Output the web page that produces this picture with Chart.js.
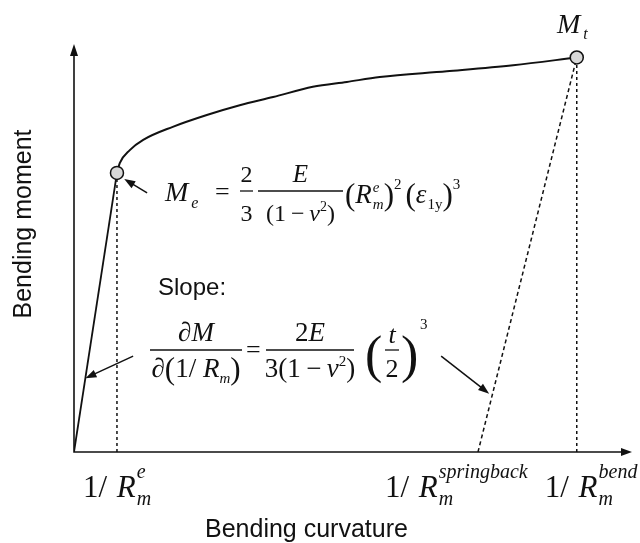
<!DOCTYPE html>
<html>
<head>
<meta charset="utf-8">
<title>Bending moment vs bending curvature</title>
<script src="https://cdn.jsdelivr.net/npm/chart.js@4.4.1/dist/chart.umd.min.js"></script>
<style>
  html, body { margin: 0; padding: 0; background: #fff; }
  #chart { display: block; }
</style>
</head>
<body>
<canvas id="chart" width="640" height="543"></canvas>
<script>
// ========================================
// DATA (curvature and moment in arbitrary units, 0..100)
// ========================================
const elasticX = [0, 7.7];
const elasticY = [0, 68.4];

const plasticX = [7.7, 8.2, 10.0, 12.4, 17.7, 23.8, 29.7, 35.7, 42.8, 48.9, 54.8, 66.8, 78.7, 90.1];
const plasticY = [68.4, 70.8, 74.0, 76.5, 79.7, 82.6, 85.0, 87.0, 89.5, 90.7, 91.9, 93.3, 94.8, 96.7];

const springbackX = [72.4, 90.1];
const springbackY = [0, 96.7];

const markerX = [7.7, 90.1];
const markerY = [68.4, 96.7];

// curvature ticks: 1/R_m^e, 1/R_m^springback, 1/R_m^bend
const curvatureTicks = [7.7, 72.4, 90.1];
const curvatureTickSup = ['e', 'springback', 'bend'];

function toPoints(xs, ys) {
    return xs.map(function(x, i) { return { x: x, y: ys[i] }; });
}

// ========================================
// TEXT HELPERS
// ========================================
const SERIF = '"Liberation Serif", "Times New Roman", serif';
const SANS = '"Liberation Sans", Arial, sans-serif';

function serif(size, italic) {
    return (italic ? 'italic ' : '') + size + 'px ' + SERIF;
}

// a run of pieces {t, s, i, dy, k, stay}; returns the end x
function drawRun(ctx, x, y, pieces, measureOnly) {
    pieces.forEach(function(p) {
        ctx.font = serif(p.s, p.i);
        if (!measureOnly) ctx.fillText(p.t, x, y + (p.dy || 0));
        if (!p.stay) x += ctx.measureText(p.t).width + (p.k || 0);
    });
    return x;
}

function runWidth(ctx, pieces) {
    return drawRun(ctx, 0, 0, pieces, true);
}

function drawCentered(ctx, cx, y, pieces) {
    drawRun(ctx, cx - runWidth(ctx, pieces) / 2, y, pieces);
}

function drawFraction(ctx, x0, x1, barY, num, numY, den, denY) {
    ctx.save();
    ctx.lineWidth = 1.3;
    ctx.beginPath();
    ctx.moveTo(x0, barY);
    ctx.lineTo(x1, barY);
    ctx.stroke();
    ctx.restore();
    const cx = (x0 + x1) / 2;
    drawCentered(ctx, cx, numY, num);
    drawCentered(ctx, cx, denY, den);
}

function arrowHead(ctx, tx, ty, angle, len, half) {
    ctx.beginPath();
    ctx.moveTo(tx, ty);
    ctx.lineTo(tx - len * Math.cos(angle) + half * Math.sin(angle), ty - len * Math.sin(angle) - half * Math.cos(angle));
    ctx.lineTo(tx - len * Math.cos(angle) - half * Math.sin(angle), ty - len * Math.sin(angle) + half * Math.cos(angle));
    ctx.closePath();
    ctx.fill();
}

function pointer(ctx, x0, y0, x1, y1) {
    const a = Math.atan2(y1 - y0, x1 - x0);
    ctx.beginPath();
    ctx.moveTo(x0, y0);
    ctx.lineTo(x1 - 6 * Math.cos(a), y1 - 6 * Math.sin(a));
    ctx.stroke();
    arrowHead(ctx, x1, y1, a, 11, 4);
}

// ========================================
// AXES (with arrow heads)
// ========================================
const axesPlugin = {
    id: 'axes',
    beforeDatasetsDraw: function(chart) {
        const ctx = chart.ctx;
        const a = chart.chartArea;
        ctx.save();
        ctx.strokeStyle = '#111';
        ctx.fillStyle = '#111';
        ctx.lineWidth = 1.6;
        ctx.beginPath();
        ctx.moveTo(a.left, a.top + 8);
        ctx.lineTo(a.left, a.bottom);
        ctx.lineTo(a.right - 8, a.bottom);
        ctx.stroke();
        arrowHead(ctx, a.left, a.top, -Math.PI / 2, 12, 4);
        arrowHead(ctx, a.right, a.bottom, 0, 11, 4);
        ctx.restore();
    }
};

// ========================================
// LABELS, FORMULAS AND POINTERS
// ========================================
const notesPlugin = {
    id: 'notes',
    afterDatasetsDraw: function(chart) {
        const ctx = chart.ctx;
        const xs = chart.scales.x;
        const ys = chart.scales.y;
        const px = function(v) { return xs.getPixelForValue(v); };
        const py = function(v) { return ys.getPixelForValue(v); };

        ctx.save();
        ctx.fillStyle = '#111';
        ctx.strokeStyle = '#111';
        ctx.lineWidth = 1.5;
        ctx.textBaseline = 'alphabetic';
        ctx.textAlign = 'left';

        // pointers
        pointer(ctx, px(13.1), py(63.5), px(9.0), py(66.9));
        pointer(ctx, px(10.6), py(23.5), px(2.05), py(18.1));
        pointer(ctx, px(65.8), py(23.5), px(74.4), py(14.3));

        // axis titles
        ctx.font = '25px ' + SANS;
        ctx.fillText('Bending curvature', 205, 537);
        ctx.save();
        ctx.translate(31, 224);
        ctx.rotate(-Math.PI / 2);
        ctx.textAlign = 'center';
        ctx.fillText('Bending moment', 0, 0);
        ctx.restore();

        // curvature tick labels
        const shift = [-34, -93, -32];
        curvatureTicks.forEach(function(v, i) {
            drawRun(ctx, px(v) + shift[i], 497, [
                { t: '1/ ', s: 31, k: 2 },
                { t: 'R', s: 31, i: true, k: 1 },
                { t: curvatureTickSup[i], s: 20, i: true, dy: -19, stay: true },
                { t: 'm', s: 20, i: true, dy: 8 }
            ]);
        });

        // M_t label
        drawRun(ctx, 557, 33, [
            { t: 'M', s: 28, i: true, k: 3 },
            { t: 't', s: 16, i: true, dy: 6 }
        ]);

        // M_e = 2/3 E/(1-v^2) (R_m^e)^2 (eps_1y)^3
        drawRun(ctx, 165, 201, [
            { t: 'M', s: 28, i: true, k: 3 },
            { t: 'e', s: 16, i: true, dy: 7 }
        ]);
        drawRun(ctx, 215, 200, [{ t: '=', s: 26 }]);
        drawFraction(ctx, 240, 253, 191, [{ t: '2', s: 24 }], 182, [{ t: '3', s: 24 }], 221);
        drawFraction(ctx, 258, 343, 191,
            [{ t: 'E', s: 25, i: true }], 182,
            [{ t: '(1\u2009\u2212\u2009', s: 24 }, { t: '\u03BD', s: 24, i: true }, { t: '2', s: 14, dy: -10 }, { t: ')', s: 24 }], 221);
        drawRun(ctx, 345, 203, [
            { t: '(', s: 31, dy: 2 },
            { t: 'R', s: 27, i: true, k: 1 },
            { t: 'e', s: 15, i: true, dy: -11, stay: true },
            { t: 'm', s: 15, i: true, dy: 6 },
            { t: ')', s: 31, dy: 2 },
            { t: '2', s: 15, dy: -14, k: 4 },
            { t: '(', s: 31, dy: 2 },
            { t: '\u03B5', s: 27, i: true, k: 1 },
            { t: '1y', s: 15, dy: 6 },
            { t: ')', s: 31, dy: 2 },
            { t: '3', s: 15, dy: -14 }
        ]);

        // slope of the elastic part
        ctx.font = '24px ' + SANS;
        ctx.fillText('Slope:', 158, 295);

        drawFraction(ctx, 150, 242, 350,
            [{ t: '\u2202', s: 27 }, { t: 'M', s: 27, i: true }], 341,
            [{ t: '\u2202', s: 27 }, { t: '(', s: 31, dy: 2 }, { t: '1/ ', s: 27 }, { t: 'R', s: 27, i: true },
             { t: 'm', s: 15, i: true, dy: 6 }, { t: ')', s: 31, dy: 2 }], 377);
        drawRun(ctx, 246, 358, [{ t: '=', s: 26 }]);
        drawFraction(ctx, 266, 354, 350,
            [{ t: '2', s: 27 }, { t: 'E', s: 27, i: true }], 341,
            [{ t: '3(1\u2009\u2212\u2009', s: 27 }, { t: '\u03BD', s: 27, i: true }, { t: '2', s: 15, dy: -11 }, { t: ')', s: 27 }], 377);
        drawRun(ctx, 365, 372, [{ t: '(', s: 52 }]);
        drawFraction(ctx, 385, 399, 350, [{ t: 't', s: 26, i: true }], 343, [{ t: '2', s: 26 }], 377);
        drawRun(ctx, 401, 372, [{ t: ')', s: 52 }]);
        drawRun(ctx, 420, 329, [{ t: '3', s: 15 }]);

        ctx.restore();
    }
};

// ========================================
// CHART
// ========================================
const black = '#111111';
const ctx = document.getElementById('chart').getContext('2d');

new Chart(ctx, {
    type: 'scatter',
    data: {
        datasets: [
            {
                label: 'Yield points',
                data: toPoints(markerX, markerY),
                pointRadius: 6.5,
                pointBackgroundColor: '#d8d8d8',
                pointBorderColor: black,
                pointBorderWidth: 1.5,
                order: 0
            },
            {
                label: 'Elastic loading',
                data: toPoints(elasticX, elasticY),
                showLine: true,
                borderColor: black,
                borderWidth: 1.8,
                pointRadius: 0,
                order: 1
            },
            {
                label: 'Elasto-plastic bending',
                data: toPoints(plasticX, plasticY),
                showLine: true,
                borderColor: black,
                borderWidth: 2,
                cubicInterpolationMode: 'monotone',
                pointRadius: 0,
                order: 1
            },
            {
                label: 'Elastic limit',
                data: toPoints([curvatureTicks[0], curvatureTicks[0]], [0, markerY[0]]),
                showLine: true,
                borderColor: black,
                borderWidth: 1.5,
                borderDash: [3, 3],
                pointRadius: 0,
                order: 2
            },
            {
                label: 'Bend curvature',
                data: toPoints([curvatureTicks[2], curvatureTicks[2]], [0, markerY[1]]),
                showLine: true,
                borderColor: black,
                borderWidth: 1.5,
                borderDash: [3, 3],
                pointRadius: 0,
                order: 2
            },
            {
                label: 'Springback unloading',
                data: toPoints(springbackX, springbackY),
                showLine: true,
                borderColor: black,
                borderWidth: 1.5,
                borderDash: [4, 3],
                pointRadius: 0,
                order: 2
            }
        ]
    },
    options: {
        responsive: false,
        animation: false,
        devicePixelRatio: 1,
        events: [],
        layout: {
            padding: { left: 74, top: 44, right: 7, bottom: 91 }
        },
        plugins: {
            legend: { display: false },
            tooltip: { enabled: false }
        },
        scales: {
            x: { type: 'linear', min: 0, max: 100, display: false },
            y: { type: 'linear', min: 0, max: 100, display: false }
        }
    },
    plugins: [axesPlugin, notesPlugin]
});
</script>
</body>
</html>
